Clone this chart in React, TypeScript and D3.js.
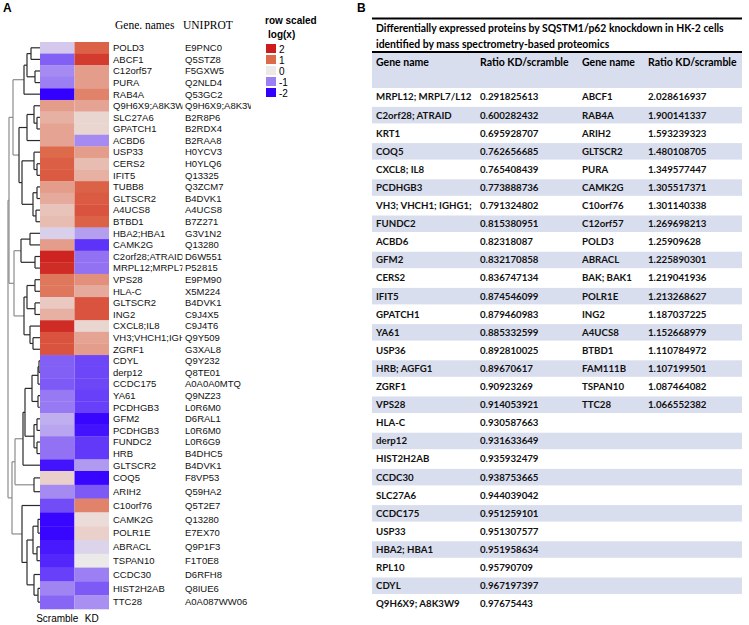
import { useMemo } from 'react'
import * as d3 from 'd3'

// ---- panel A: heatmap rows ----
const geneNames = [
  'POLD3', 'ABCF1', 'C12orf57', 'PURA', 'RAB4A', 'Q9H6X9;A8K3W9', 'SLC27A6', 'GPATCH1', 'ACBD6',
  'USP33', 'CERS2', 'IFIT5', 'TUBB8', 'GLTSCR2', 'A4UCS8', 'BTBD1', 'HBA2;HBA1', 'CAMK2G',
  'C2orf28;ATRAID', 'MRPL12;MRPL7/L12', 'VPS28', 'HLA-C', 'GLTSCR2', 'ING2', 'CXCL8;IL8',
  'VH3;VHCH1;IGHG1', 'ZGRF1', 'CDYL', 'derp12', 'CCDC175', 'YA61', 'PCDHGB3', 'GFM2', 'PCDHGB3',
  'FUNDC2', 'HRB', 'GLTSCR2', 'COQ5', 'ARIH2', 'C10orf76', 'CAMK2G', 'POLR1E', 'ABRACL',
  'TSPAN10', 'CCDC30', 'HIST2H2AB', 'TTC28',
]

const uniprotIds = [
  'E9PNC0', 'Q5STZ8', 'F5GXW5', 'Q2NLD4', 'Q53GC2', 'Q9H6X9;A8K3W9', 'B2R8P6', 'B2RDX4', 'B2RAA8',
  'H0YCV3', 'H0YLQ6', 'Q13325', 'Q3ZCM7', 'B4DVK1', 'A4UCS8', 'B7Z271', 'G3V1N2', 'Q13280',
  'D6W551', 'P52815', 'E9PM90', 'X5M224', 'B4DVK1', 'C9J4X5', 'C9J4T6', 'Q9Y509', 'G3XAL8',
  'Q9Y232', 'Q8TE01', 'A0A0A0MTQ', 'Q9NZ23', 'L0R6M0', 'D6RAL1', 'L0R6M0', 'L0R6G9', 'B4DHC5',
  'B4DVK1', 'F8VP53', 'Q59HA2', 'Q5T2E7', 'Q13280', 'E7EX70', 'Q9P1F3', 'F1T0E8', 'D6RFH8',
  'Q8IUE6', 'A0A087WW06',
]

const scrambleValues = [
  -0.3, -1.25, -0.9, -1.0, -2.0, 0.6, 0.45, 0.55, 0.55, 1.0, 1.15, 1.2, 0.6, 0.5, 0.3, 0.35,
  -0.25, 0.6, 1.9, 1.8, 0.9, 0.9, 0.25, 0.45, 1.8, 1.3, 1.3, -1.25, -1.25, -1.3, -1.05, -1.05,
  -0.55, -0.65, -1.1, -1.1, -1.85, 0.2, -0.9, -1.4, -1.95, -1.95, -1.8, -1.7, -1.5, -0.95, -1.2,
]

const kdValues = [
  1.1, 1.6, 0.6, 0.6, 0.8, 0.55, 0.15, 0.15, -0.9, 0.6, 0.35, 0.45, 1.1, 1.2, 1.3, 1.1,
  -0.7, -1.6, -1.1, -1.1, 0.7, 0.5, 1.3, 1.3, 0.15, 0.55, 0.6, -1.45, -1.45, -1.45, -1.5, -1.5,
  -1.95, -1.85, -1.55, -1.55, -0.75, -1.95, -1.3, 0.8, 0.1, 0.2, -0.2, 0.0, -1.0, -1.3, -0.85,
]

const sampleNames = ['Scramble', 'KD']

// hclust-style merge list: negative = leaf (1-based row), positive = earlier merge; third = height
const merges: [number, number, number][] = [
  [-1, -2, 9], [-3, -4, 5], [1, 2, 13], [3, -5, 16], [-7, -8, 3], [-6, 5, 6], [6, -9, 13],
  [-11, -12, 3], [-10, 8, 6], [-13, -14, 3], [-15, -16, 4], [10, 11, 7], [9, 12, 18],
  [7, 13, 21], [4, 14, 27], [-17, -18, 10], [-19, -20, 5], [16, 17, 19], [-21, -22, 5],
  [-23, -24, 5], [19, 20, 13], [-26, -27, 7], [-25, 22, 10], [21, 23, 16], [18, 24, 26],
  [15, 25, 31], [-28, -29, 1], [27, -30, 2], [-31, -32, 2], [28, 29, 8], [-33, -34, 3],
  [-35, -36, 3], [31, 32, 6], [30, 33, 15], [34, -37, 17], [-38, -39, 6], [35, 36, 25],
  [-41, -42, 2], [-43, -44, 3], [38, 39, 7], [-46, -47, 2], [-45, 41, 6], [40, 42, 13],
  [-40, 43, 18], [37, 44, 28], [26, 45, 32],
]

const legendValues = [2, 1, 0, -1, -2]

// ---- panel B: table ----
const tableTitle = [
  'Differentially expressed proteins by SQSTM1/p62 knockdown in HK-2 cells',
  'identified by mass spectrometry-based proteomics',
]
const tableHeaders = ['Gene name', 'Ratio KD/scramble', 'Gene name', 'Ratio KD/scramble']

const downGenes = [
  'MRPL12; MRPL7/L12', 'C2orf28; ATRAID', 'KRT1', 'COQ5', 'CXCL8; IL8', 'PCDHGB3',
  'VH3; VHCH1; IGHG1;', 'FUNDC2', 'ACBD6', 'GFM2', 'CERS2', 'IFIT5', 'GPATCH1', 'YA61', 'USP36',
  'HRB; AGFG1', 'ZGRF1', 'VPS28', 'HLA-C', 'derp12', 'HIST2H2AB', 'CCDC30', 'SLC27A6', 'CCDC175',
  'USP33', 'HBA2; HBA1', 'RPL10', 'CDYL', 'Q9H6X9; A8K3W9',
]
const downRatios = [
  '0.291825613', '0.600282432', '0.695928707', '0.762656685', '0.765408439', '0.773888736',
  '0.791324802', '0.815380951', '0.82318087', '0.832170858', '0.836747134', '0.874546099',
  '0.879460983', '0.885332599', '0.892810025', '0.89670617', '0.90923269', '0.914053921',
  '0.930587663', '0.931633649', '0.935932479', '0.938753665', '0.944039042', '0.951259101',
  '0.951307577', '0.951958634', '0.95790709', '0.967197397', '0.97675443',
]
const upGenes = [
  'ABCF1', 'RAB4A', 'ARIH2', 'GLTSCR2', 'PURA', 'CAMK2G', 'C10orf76', 'C12orf57', 'POLD3',
  'ABRACL', 'BAK; BAK1', 'POLR1E', 'ING2', 'A4UCS8', 'BTBD1', 'FAM111B', 'TSPAN10', 'TTC28',
]
const upRatios = [
  '2.028616937', '1.900141337', '1.593239323', '1.480108705', '1.349577447', '1.305517371',
  '1.301140338', '1.269698213', '1.25909628', '1.225890301', '1.219041936', '1.213268627',
  '1.187037225', '1.152668979', '1.110784972', '1.107199501', '1.087464082', '1.066552382',
]

type TreeNode = { h: number; leaf?: number; children?: TreeNode[] }

function buildTree(): TreeNode {
  const built: TreeNode[] = []
  const ref = (k: number): TreeNode => (k < 0 ? { h: 0, leaf: -k - 1 } : built[k - 1])
  merges.forEach(([a, b, h]) => built.push({ h, children: [ref(a), ref(b)] }))
  return built[built.length - 1]
}

const sans = 'Liberation Sans, Arial, sans-serif'
const tableFont = 'Lato, Open Sans, sans-serif'

export default function App() {
  const width = 749
  const height = 625

  // rows: the lower block of the original figure is drawn taller
  const rowY = d3.scaleLinear().domain([0, 37, geneNames.length]).range([42, 471, 609])
  const colX = d3.scaleBand<string>().domain(sampleNames).range([40, 109])
  const color = d3
    .scaleLinear<string>()
    .domain([-2, -1, 0, 1, 2])
    .range(['#3300ff', '#9c7ff2', '#ece9e9', '#de6a4c', '#cc1c1c'])
    .clamp(true)
  const hx = d3.scaleLinear().domain([0, 32]).range([40, 8])

  const segments = useMemo(() => {
    const root = d3.hierarchy<TreeNode>(buildTree())
    const ys = new Map<d3.HierarchyNode<TreeNode>, number>()
    root.eachAfter((n) => {
      if (!n.children) ys.set(n, rowY((n.data.leaf ?? 0) + 0.5))
      else ys.set(n, d3.mean(n.children, (c) => ys.get(c)!)!)
    })
    const segs: { x1: number; y1: number; x2: number; y2: number; c: string }[] = []
    root.each((n) => {
      if (!n.children) return
      const x = hx(n.data.h)
      const c = n.data.h >= 25 ? '#8c8c8c' : '#2a2a2a'
      const [a, b] = n.children
      segs.push({ x1: x, x2: x, y1: ys.get(a)!, y2: ys.get(b)!, c })
      n.children.forEach((ch) => {
        segs.push({ x1: x, x2: hx(ch.data.h), y1: ys.get(ch)!, y2: ys.get(ch)!, c })
      })
    })
    return segs
  }, [])

  // table
  const tableRows = d3.range(downGenes.length)
  const tY = d3.scaleBand<number>().domain(tableRows).range([88, 88 + 18.1 * downGenes.length])
  const colTextX = [376, 480, 582, 648]

  return (
    <div style={{ position: 'absolute', left: 0, top: 0 }}>
      <svg width={width} height={height} style={{ display: 'block', background: '#fff' }}>
        <defs>
          <clipPath id="geneClip">
            <rect x={110} y={30} width={72.5} height={590} />
          </clipPath>
          <clipPath id="uniClip">
            <rect x={184} y={30} width={67} height={590} />
          </clipPath>
        </defs>

        <text x={3} y={12} fontFamily={sans} fontWeight="bold" fontSize={12}>A</text>
        <text x={357} y={12} fontFamily={sans} fontWeight="bold" fontSize={12}>B</text>

        {/* dendrogram */}
        {segments.map((s, i) => (
          <line key={i} x1={s.x1} x2={s.x2} y1={s.y1} y2={s.y2} stroke={s.c} strokeWidth={1.2} />
        ))}

        {/* heatmap */}
        {geneNames.map((_, i) => (
          <g key={`r${i}`}>
            {[scrambleValues[i], kdValues[i]].map((v, j) => (
              <rect
                key={j}
                x={colX(sampleNames[j])}
                y={rowY(i)}
                width={colX.bandwidth()}
                height={rowY(i + 1) - rowY(i) + 0.3}
                fill={color(v)}
              />
            ))}
          </g>
        ))}

        <text x={115} y={29} fontFamily="Liberation Serif, serif" fontSize={11.5}>Gene. names</text>
        <text x={183} y={29} fontFamily="Liberation Serif, serif" fontSize={11.5}>UNIPROT</text>

        <g clipPath="url(#geneClip)" fontFamily={sans} fontSize={9.5} fill="#111">
          {geneNames.map((g, i) => (
            <text key={i} x={113} y={rowY(i + 0.5)} dy="0.35em">{g}</text>
          ))}
        </g>
        <g clipPath="url(#uniClip)" fontFamily={sans} fontSize={9.5} fill="#111">
          {uniprotIds.map((g, i) => (
            <text key={i} x={185} y={rowY(i + 0.5)} dy="0.35em">{g}</text>
          ))}
        </g>

        {sampleNames.map((s) => (
          <text
            key={s}
            x={(colX(s) ?? 0) + colX.bandwidth() / 2}
            y={622}
            textAnchor="middle"
            fontFamily={sans}
            fontSize={10}
          >
            {s}
          </text>
        ))}

        {/* legend */}
        <text x={265} y={24} fontFamily={sans} fontWeight="bold" fontSize={10}>row scaled</text>
        <text x={268} y={38} fontFamily={sans} fontWeight="bold" fontSize={10}>log(x)</text>
        {legendValues.map((v, i) => (
          <g key={v} transform={`translate(266, ${44 + i * 11})`}>
            <rect width={10} height={9} fill={color(v)} />
            <text x={13} y={8.5} fontFamily={sans} fontSize={10}>{v}</text>
          </g>
        ))}

        {/* table */}
        <line x1={372} x2={742} y1={18.5} y2={18.5} stroke="#000" strokeWidth={2} />
        {tableTitle.map((t, i) => (
          <text key={i} x={376} y={28 + i * 16} dy="0.35em" fontFamily={tableFont} fontWeight="bold" fontSize={10.4}>
            {t}
          </text>
        ))}
        <rect x={372} y={52} width={370} height={36} fill="#d9deee" />
        <line x1={372} x2={742} y1={52} y2={52} stroke="#000" strokeWidth={2} />
        {tableHeaders.map((h, i) => (
          <text key={i} x={colTextX[i]} y={62} dy="0.35em" fontFamily={tableFont} fontWeight="bold" fontSize={10.5}>
            {h}
          </text>
        ))}
        {tableRows.map((i) => {
          const y = (tY(i) ?? 0) + tY.bandwidth() / 2
          return (
            <g key={i}>
              {i % 2 === 1 && (
                <rect x={372} y={(tY(i) ?? 0) + 0.8} width={370} height={tY.bandwidth() - 1.6} fill="#d9deee" />
              )}
              <g fontFamily={tableFont} fontWeight="bold" fontSize={9.7} fill="#111">
                <text x={colTextX[0]} y={y} dy="0.35em">{downGenes[i]}</text>
                <text x={colTextX[1]} y={y} dy="0.35em">{downRatios[i]}</text>
                {i < upGenes.length && <text x={colTextX[2]} y={y} dy="0.35em">{upGenes[i]}</text>}
                {i < upRatios.length && <text x={colTextX[3]} y={y} dy="0.35em">{upRatios[i]}</text>}
              </g>
            </g>
          )
        })}
      </svg>
    </div>
  )
}
